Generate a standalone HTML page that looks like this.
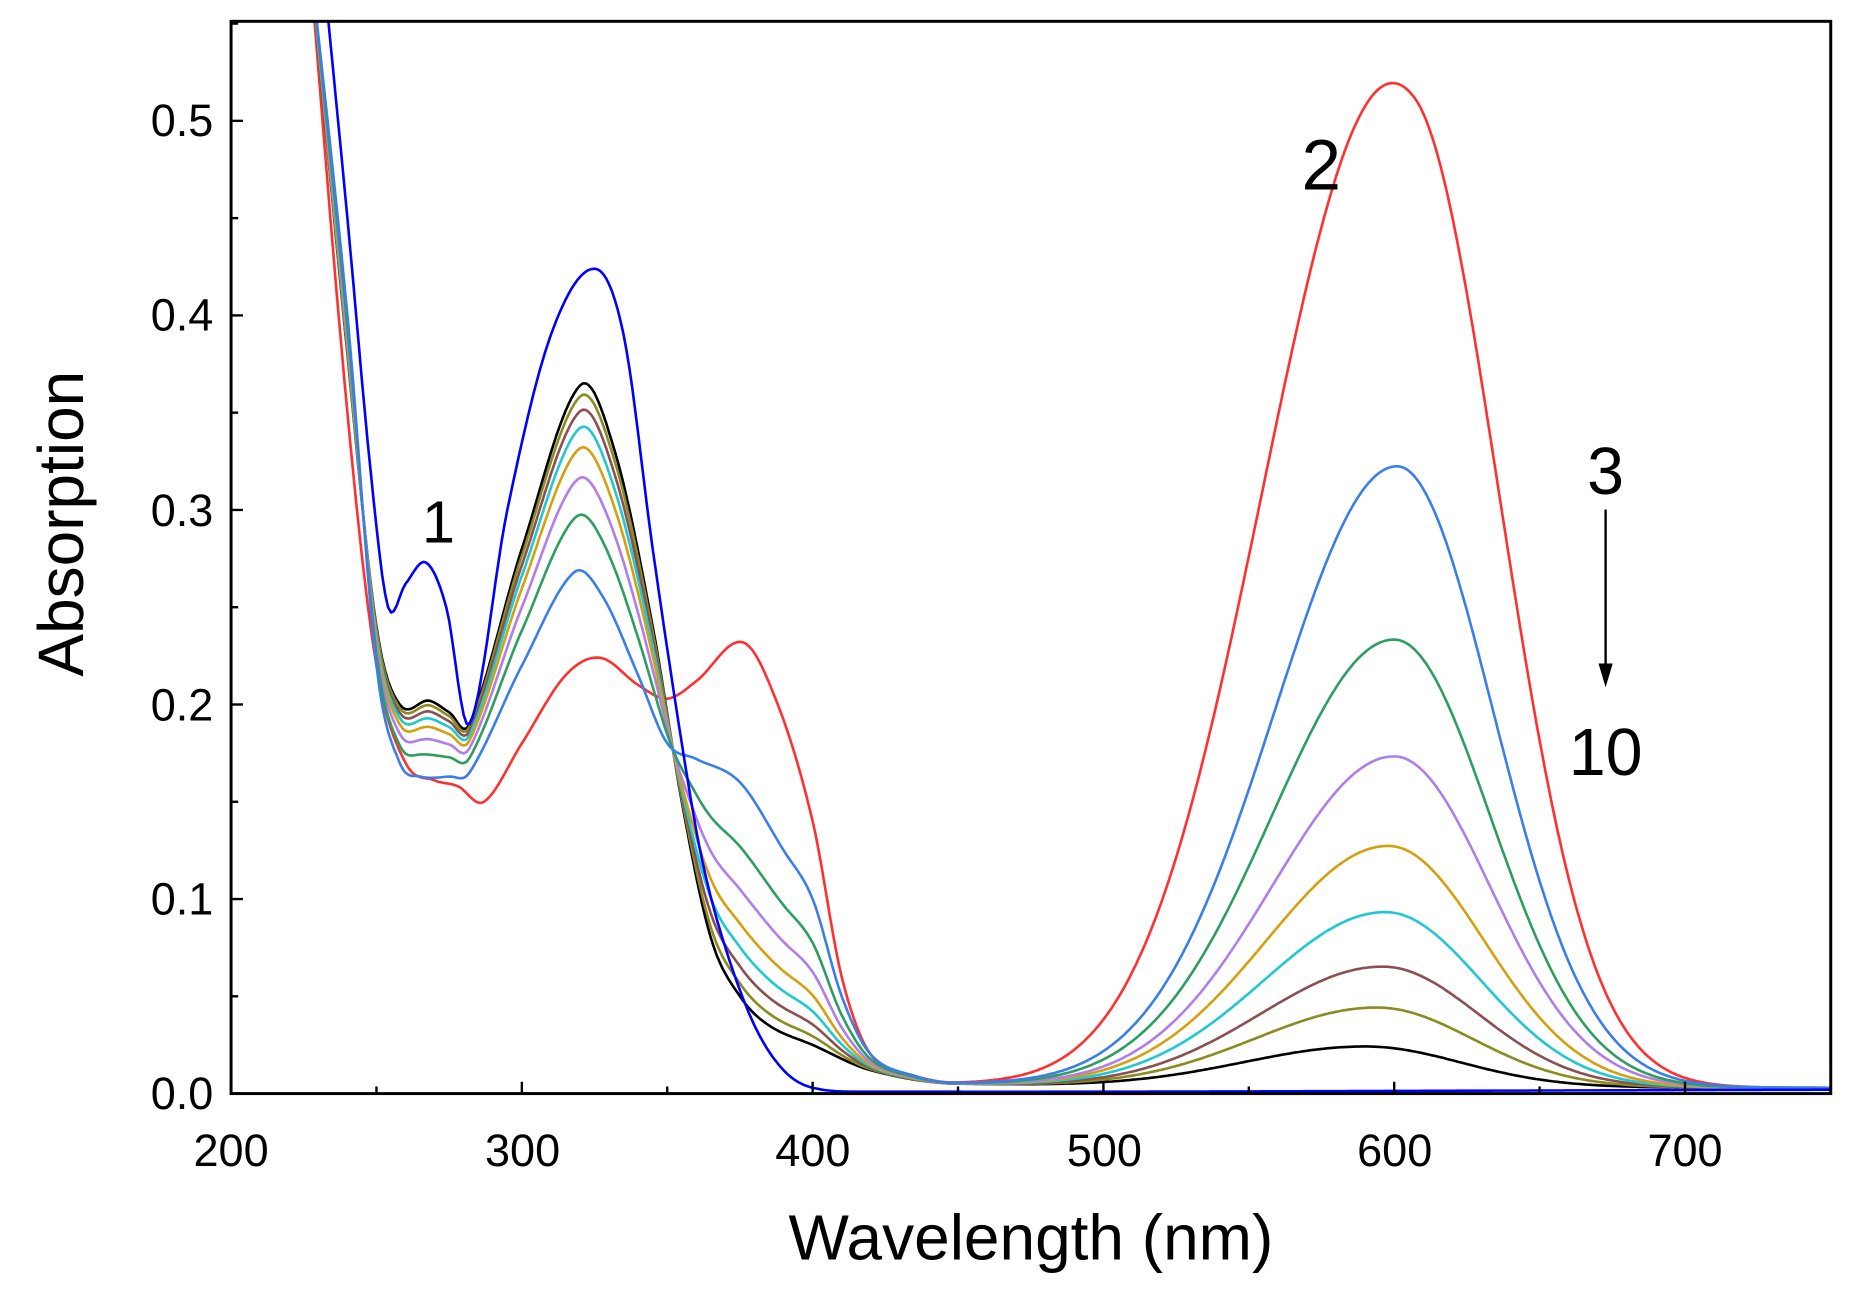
<!DOCTYPE html>
<html><head><meta charset="utf-8"><style>
html,body{margin:0;padding:0;background:#fff;}
svg{display:block;}
text{font-family:"Liberation Sans",Arial,sans-serif;fill:#000;}
</style></head><body>
<svg id="s" width="1858" height="1295" viewBox="0 0 1568 1093" preserveAspectRatio="none" xmlns="http://www.w3.org/2000/svg">
<rect x="0" y="0" width="1568" height="1093" fill="#fff"/>
<defs><clipPath id="c"><rect x="195" y="18" width="1350" height="905"/></clipPath></defs>
<g id="curves" clip-path="url(#c)" fill="none" stroke-width="2.2" stroke-linejoin="round"></g>
<rect x="195" y="18" width="1350" height="905" fill="none" stroke="#000" stroke-width="2.5"/>
<g id="ticks" stroke="#000" stroke-width="2"></g>
<g font-size="38" text-anchor="end">
<text x="180" y="936">0.0</text><text x="180" y="772">0.1</text><text x="180" y="608">0.2</text>
<text x="180" y="444">0.3</text><text x="180" y="279">0.4</text><text x="180" y="115">0.5</text>
</g>
<g font-size="38" text-anchor="middle">
<text x="195" y="984">200</text><text x="441" y="984">300</text><text x="686" y="984">400</text>
<text x="932" y="984">500</text><text x="1177" y="984">600</text><text x="1422" y="984">700</text>
</g>
<text x="870" y="1063" font-size="54" text-anchor="middle">Wavelength (nm)</text>
<text transform="translate(70,442) rotate(-90)" font-size="54" text-anchor="middle">Absorption</text>
<text x="370" y="458" font-size="50" text-anchor="middle">1</text>
<text x="1115" y="160" font-size="60" text-anchor="middle">2</text>
<text x="1355" y="417" font-size="56" text-anchor="middle">3</text>
<text x="1355" y="654" font-size="56" text-anchor="middle">10</text>
<line x1="1355" y1="430" x2="1355" y2="565" stroke="#000" stroke-width="2"/>
<polygon points="1349,560 1361,560 1355,580" fill="#000"/>
</svg>
<script>
var X=function(l){return 195+(l-200)*2.454;};
var Y=function(a){return 923-a*1642;};
function interp(pts,l){
 if(l<=pts[0][0])return pts[0][1]+(pts[0][0]-l)*0.02;
 var n=pts.length;
 if(l>=pts[n-1][0])return pts[n-1][1];
 var i=0;while(pts[i+1][0]<l)i++;
 var p0=pts[Math.max(i-1,0)],p1=pts[i],p2=pts[i+1],p3=pts[Math.min(i+2,n-1)];
 var t=(l-p1[0])/(p2[0]-p1[0]);
 var m1=(p2[1]-p0[1])/(p2[0]-p0[0])*(p2[0]-p1[0]);
 var m2=(p3[1]-p1[1])/(p3[0]-p1[0])*(p2[0]-p1[0]);
 var t2=t*t,t3=t2*t;
 return (2*t3-3*t2+1)*p1[1]+(t3-2*t2+t)*m1+(-2*t3+3*t2)*p2[1]+(t3-t2)*m2;
}
function band(l,c,h){var s=l<c?42:33;return h*Math.exp(-(l-c)*(l-c)/(2*s*s));}
function gs(l,c,sl,sr,h){var s=l<c?sl:sr;return h*Math.exp(-(l-c)*(l-c)/(2*s*s));}
var c3=[[226,0.6],[240,0.4],[250,0.22],[258,0.17],[265,0.163],[275,0.163],[282,0.165],[300,0.22],[318,0.268],[328,0.255],[340,0.215],[350,0.18],[360,0.172],[375,0.16],[390,0.125],[400,0.1],[410,0.05],[420,0.02],[435,0.009],[450,0.005],[700,0.003]];
var c10=[[226,0.6],[240,0.38],[250,0.24],[258,0.2],[268,0.202],[275,0.196],[282,0.19],[300,0.28],[320,0.364],[332,0.33],[345,0.24],[355,0.15],[365,0.08],[375,0.05],[385,0.035],[400,0.025],[420,0.012],[450,0.005],[700,0.003]];
var red=[[226,0.6],[240,0.35],[250,0.22],[260,0.17],[270,0.161],[278,0.158],[287,0.15],[300,0.18],[315,0.215],[327,0.224],[340,0.21],[350,0.203],[360,0.212],[376,0.232],[388,0.2],[400,0.14],[410,0.06],[420,0.02],[435,0.009],[450,0.005],[700,0.003]];
var blue=[[229,0.62],[240,0.45],[248,0.32],[254,0.25],[260,0.262],[267,0.273],[274,0.25],[282,0.19],[295,0.3],[310,0.39],[325,0.424],[335,0.39],[345,0.28],[355,0.18],[362,0.12],[370,0.075],[380,0.035],[390,0.012],[400,0.003],[420,0.001],[750,0.002]];
var g=document.getElementById('curves'),NS='http://www.w3.org/2000/svg';
function draw(f,col){var d='';for(var l=222;l<=752;l+=1){var a=f(l);d+=(l==222?'M':'L')+X(l).toFixed(1)+','+Y(a).toFixed(1);}
 var p=document.createElementNS(NS,'path');p.setAttribute('d',d);p.setAttribute('stroke',col);g.appendChild(p);}
var sets=[
 ['#3a7ee8',0,601,0.322],['#2e9e60',0.30,600,0.233],['#b07ee8',0.50,600,0.173],['#d4a010',0.66,598,0.127],
 ['#20c8d0',0.77,597,0.093],['#8b5050',0.86,596,0.065],['#8b8b20',0.94,594,0.044],['#000000',1,590,0.024]];
sets.reverse();
draw(function(l){return interp(red,l)+gs(l,607,40,31,0.45)+gs(l,565,35,35,0.12);},'#ff3030');
sets.forEach(function(s){draw(function(l){return (1-s[1])*interp(c3,l)+s[1]*interp(c10,l)+band(l,s[2],s[3]-0.003);},s[0]);});
draw(function(l){return interp(blue,l);},'#0000ff');
var t=document.getElementById('ticks'),h='';
for(var l=200;l<=750;l+=50){var x=X(l),L=(l%100==0)?10:6;h+='<line x1="'+x+'" y1="923" x2="'+x+'" y2="'+(923-L)+'"/>';}
for(var a=0;a<=0.55;a+=0.05){var y=Y(a),L=(Math.round(a*100)%10==0)?10:6;h+='<line x1="195" y1="'+y+'" x2="'+(195+L)+'" y2="'+y+'"/>';}
t.innerHTML=h;
</script>
</body></html>
